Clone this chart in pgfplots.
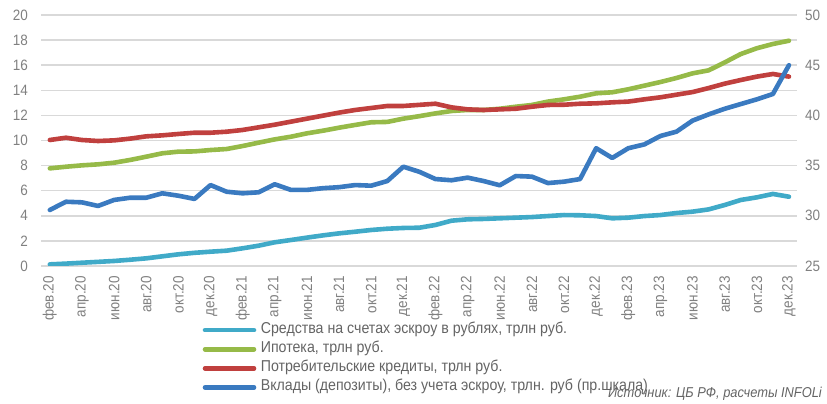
\documentclass[border=0pt]{standalone}
\usepackage{fontspec}
\setmainfont{Liberation Sans}[FakeStretch=0.9]
\usepackage{pgfplots}
\pgfplotsset{compat=1.18}
\definecolor{cEsc}{RGB}{64,170,200}
\definecolor{cMort}{RGB}{150,186,72}
\definecolor{cCons}{RGB}{192,64,62}
\definecolor{cDep}{RGB}{58,122,192}
\definecolor{cTick}{RGB}{128,128,128}
\definecolor{cText}{RGB}{100,100,100}
\definecolor{cGrid}{RGB}{217,217,217}

\pgfplotstableread{
i v
0 0.13
1 0.19
2 0.26
3 0.33
4 0.40
5 0.50
6 0.61
7 0.77
8 0.93
9 1.05
10 1.14
11 1.22
12 1.41
13 1.62
14 1.89
15 2.07
16 2.26
17 2.44
18 2.60
19 2.73
20 2.87
21 2.97
22 3.03
23 3.05
24 3.27
25 3.61
26 3.72
27 3.75
28 3.80
29 3.85
30 3.90
31 3.98
32 4.06
33 4.04
34 3.98
35 3.80
36 3.85
37 3.98
38 4.06
39 4.22
40 4.33
41 4.51
42 4.86
43 5.26
44 5.47
45 5.74
46 5.52
}\escrow

\pgfplotstableread{
i v
0 7.78
1 7.91
2 8.02
3 8.10
4 8.23
5 8.45
6 8.71
7 8.98
8 9.11
9 9.13
10 9.24
11 9.32
12 9.56
13 9.83
14 10.09
15 10.30
16 10.57
17 10.78
18 11.02
19 11.24
20 11.45
21 11.48
22 11.74
23 11.94
24 12.16
25 12.35
26 12.43
27 12.43
28 12.53
29 12.69
30 12.83
31 13.10
32 13.28
33 13.49
34 13.76
35 13.84
36 14.08
37 14.37
38 14.66
39 14.98
40 15.35
41 15.59
42 16.22
43 16.89
44 17.35
45 17.69
46 17.95
}\mortgage

\pgfplotstableread{
i v
0 10.04
1 10.22
2 10.04
3 9.96
4 10.01
5 10.15
6 10.33
7 10.41
8 10.52
9 10.62
10 10.62
11 10.70
12 10.84
13 11.05
14 11.26
15 11.50
16 11.74
17 11.98
18 12.22
19 12.43
20 12.59
21 12.75
22 12.75
23 12.84
24 12.93
25 12.64
26 12.48
27 12.43
28 12.48
29 12.53
30 12.69
31 12.83
32 12.85
33 12.93
34 12.96
35 13.04
36 13.10
37 13.28
38 13.44
39 13.65
40 13.86
41 14.18
42 14.53
43 14.82
44 15.09
45 15.30
46 15.09
}\consumer

\pgfplotstableread{
i v
0 30.58
1 31.40
2 31.34
3 30.98
4 31.58
5 31.80
6 31.80
7 32.24
8 32.00
9 31.68
10 33.06
11 32.40
12 32.24
13 32.34
14 33.14
15 32.58
16 32.58
17 32.75
18 32.85
19 33.06
20 33.00
21 33.46
22 34.89
23 34.38
24 33.66
25 33.54
26 33.80
27 33.46
28 33.04
29 33.96
30 33.90
31 33.26
32 33.40
33 33.66
34 36.73
35 35.76
36 36.73
37 37.11
38 37.95
39 38.38
40 39.48
41 40.10
42 40.66
43 41.13
44 41.60
45 42.13
46 45.00
}\deposits

\begin{document}
\begin{tikzpicture}[x=1pt,y=1pt]
\useasboundingbox (0,0) rectangle (827,404);
\pgfplotsset{
  every axis/.append style={
    at={(41pt,138pt)}, anchor=south west,
    scale only axis, width=756pt, height=251pt,
    xmin=-0.55, xmax=46.5,
    axis line style={draw=none},
    major tick length=0pt,
    /pgf/number format/assume math mode=true,
    tick label style={font=\fontsize{15}{17}\selectfont, text=cTick},
  },
  ser/.style={line width=4.6pt, line cap=round, line join=round, no markers},
}
\begin{axis}[
  ymin=0, ymax=20, ytick={0,2,...,20},
  ymajorgrids, grid style={draw=cGrid, line width=1.5pt},
  xtick={0,2,...,46},
  xticklabels={фев.20,апр.20,июн.20,авг.20,окт.20,дек.20,фев.21,апр.21,июн.21,авг.21,окт.21,дек.21,фев.22,апр.22,июн.22,авг.22,окт.22,дек.22,фев.23,апр.23,июн.23,авг.23,окт.23,дек.23},
  xticklabel style={rotate=90, anchor=east, inner sep=0pt},
  xticklabel shift=10pt,
  yticklabel style={inner sep=0pt},
  yticklabel shift=13pt,
]
\addplot[ser, color=cEsc] table[x=i,y=v] {\escrow};
\addplot[ser, color=cMort] table[x=i,y=v] {\mortgage};
\addplot[ser, color=cCons] table[x=i,y=v] {\consumer};
\end{axis}
\begin{axis}[
  ymin=25, ymax=50, ytick={25,30,...,50},
  axis y line*=right, axis x line=none,
  yticklabel style={inner sep=0pt},
  yticklabel shift=8pt,
  legend cell align=left,
  legend style={at={(0.2097,-0.221)}, anchor=north west, draw=none, fill=none,
    font=\fontsize{15.75}{17}\selectfont, text=cText,
    row sep=6.1pt, column sep=4.5pt,
    nodes={inner sep=0pt, text height=10pt, text depth=3pt}},
  legend image code/.code={\draw[#1, line width=4.6pt, line cap=round] (0pt,0pt) -- (49pt,0pt);},
]
\addlegendimage{color=cEsc}
\addlegendentry{Средства на счетах эскроу в рублях, трлн руб.}
\addlegendimage{color=cMort}
\addlegendentry{Ипотека, трлн руб.}
\addlegendimage{color=cCons}
\addlegendentry{Потребительские кредиты, трлн руб.}
\addplot[ser, color=cDep] table[x=i,y=v] {\deposits};
\addlegendentry{Вклады (депозиты), без учета эскроу, трлн. руб (пр.шкала)}
\end{axis}
\node[anchor=base east, font=\fontsize{14.3}{16}\selectfont\itshape, text=cText, inner sep=0pt] at (822,6.5) {Источник: ЦБ РФ, расчеты INFOLi};
\end{tikzpicture}
\end{document}
